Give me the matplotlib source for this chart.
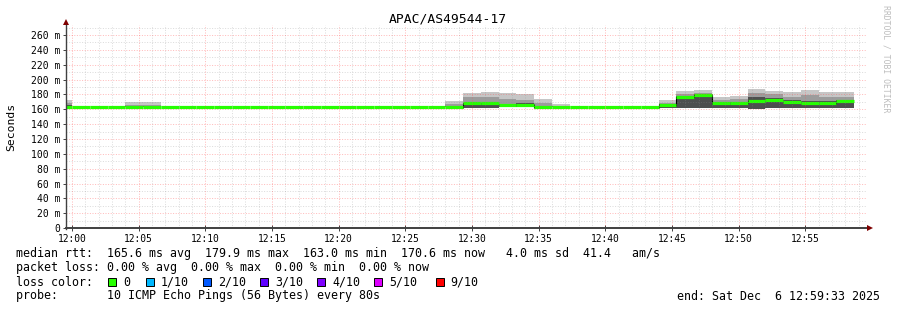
"""
Smokeping style latency graph for APAC/AS49544-17, last hour.
"""
import numpy as np
import matplotlib.pyplot as plt
from matplotlib.patches import Rectangle

W, H = 897, 310
MONO = 'DejaVu Sans Mono'

# 80 s bins, first one starts 11:58:40 (index -1), values in ms
median = [162.8, 162.8, 162.8, 162.8, 162.8, 163.8, 163.8, 163.8, 163.8, 163.8,
          163.8, 163.0, 163.0, 163.0, 163.0, 163.0, 163.0, 163.0, 163.0, 163.0,
          163.0, 163.0, 163.0, 168.2, 168.2, 166.5, 166.0, 163.0, 163.0, 163.0,
          163.0, 163.0, 163.0, 163.0, 166.0, 176.5, 179.9, 168.8, 168.0, 171.0,
          172.0, 170.0, 168.0, 168.0, 170.6]
smoke_hi = [172, None, None, None, 170, 170, None, None, None, None,
            None, None, None, None, None, None, None, None, None, None,
            None, None, 171, 182, 183, 182, 180, 174, 167, None,
            None, None, None, None, 173, 185, 186, 176, 178, 188,
            185, 183, 186, 184, 183]
smoke_mid = [168, None, None, None, 166, 166, None, None, None, None,
             None, None, None, None, None, None, None, None, None, None,
             None, None, 167, 176, 176, 174, 172, 168, 165, None,
             None, None, None, None, 169, 180, 182, 172, 174, 182,
             180, 177, 179, 177, 176]
smoke_dark = [166, None, None, None, 164, 164, None, None, None, None,
              None, None, None, None, None, None, None, None, None, None,
              None, None, 165, 168, 168, 167, 168, 165, 164, None,
              None, None, None, None, 167, 176, 179, 168, 170, 176,
              175, 172, 171, 171, 172]
smoke_lo = [162, None, None, None, 163, 163, None, None, None, None,
            None, None, None, None, None, None, None, None, None, None,
            None, None, 163, 162, 162, 163, 163, 162, 163, None,
            None, None, None, None, 162, 162, 162, 162, 162, 161,
            162, 162, 162, 162, 162]

x_labels = ['12:00', '12:05', '12:10', '12:15', '12:20', '12:25',
            '12:30', '12:35', '12:40', '12:45', '12:50', '12:55']
stats_line = ('median rtt:  165.6 ms avg  179.9 ms max  163.0 ms min  '
              '170.6 ms now   4.0 ms sd  41.4   am/s')
loss_line = 'packet loss: 0.00 % avg  0.00 % max  0.00 % min  0.00 % now'
probe_line = 'probe:       10 ICMP Echo Pings (56 Bytes) every 80s'
end_line = 'end: Sat Dec  6 12:59:33 2025'
loss_labels = ['0', '1/10', '2/10', '3/10', '4/10', '5/10', '9/10']
loss_colors = ['#26ff00', '#00b8ff', '#0059ff', '#5e00ff', '#7e00ff', '#dd00ff', '#ff0000']

step = 80 / 60.0
starts = -step + step * np.arange(len(median))

fig = plt.figure(figsize=(W / 100, H / 100), dpi=100)
fig.patch.set_facecolor('white')

x0, x1, ytop, ybot = 66, 866, 25.4, 228.2
ax = fig.add_axes([x0 / W, (H - ybot) / H, (x1 - x0) / W, (ybot - ytop) / H])
ax.set_xlim(-27 / 60, 59 + 33 / 60)
ax.set_ylim(0, 273)
for s in ax.spines.values():
    s.set_visible(False)

# smoke
for lo_, top_, col in [(smoke_lo, smoke_hi, '#c6c6c6'),
                       (smoke_lo, smoke_mid, '#9c9c9c'),
                       (smoke_lo, smoke_dark, '#4e4e4e')]:
    for i in range(len(median)):
        if top_[i] is None:
            continue
        ax.bar(starts[i], top_[i] - lo_[i], bottom=lo_[i], width=step, align='edge',
               color=col, linewidth=0, zorder=2)

# median line
for i in range(len(median)):
    ax.hlines(median[i], starts[i], starts[i] + step, color=loss_colors[0], lw=2.3,
              zorder=4)
for i in range(1, len(median)):
    if abs(median[i] - median[i - 1]) > 2:
        ax.vlines(starts[i], min(median[i], median[i - 1]) - 1,
                  max(median[i], median[i - 1]) + 1, color='black', lw=0.8, zorder=3)

# grid
minor_c = (0.55, 0.55, 0.55, 0.3)
major_c = (1, 0.3, 0.3, 0.38)
dots = (0, (1, 1.6))
minor_x = np.arange(0, 60, 1)
major_x = np.arange(0, 60, 5)
for v in minor_x:
    if v % 5:
        ax.axvline(v, color=minor_c, lw=0.72, ls=dots, zorder=5)
for v in np.arange(10, 271, 10):
    if v % 20:
        ax.axhline(v, color=minor_c, lw=0.72, ls=dots, zorder=5)
for v in major_x:
    ax.axvline(v, color=major_c, lw=0.72, ls=dots, zorder=5)
for v in np.arange(20, 261, 20):
    ax.axhline(v, color=major_c, lw=0.72, ls=dots, zorder=5)

ax.set_xticks(major_x)
ax.set_xticklabels(x_labels, fontfamily=MONO, fontsize=6.9)
yt = np.arange(0, 261, 20)
ax.set_yticks(yt)
ax.set_yticklabels(['0'] + ['%d m' % v for v in yt[1:]], fontfamily=MONO, fontsize=7)
ax.tick_params(axis='both', length=2, width=0.7, color='#404040', pad=2)
ax.tick_params(axis='x', direction='inout', length=4)

# axes with arrows
axc = '#404040'
fig.add_artist(plt.Line2D([x0 / W, 869 / W], [(H - ybot) / H] * 2, color=axc, lw=1.4))
fig.add_artist(plt.Line2D([x0 / W] * 2, [(H - ybot - 0.5) / H, (H - 24) / H], color=axc, lw=1.0))
fig.add_artist(plt.Line2D([870 / W], [(H - ybot) / H], marker='>', ms=4, color='#7f0000',
                          markeredgewidth=0))
fig.add_artist(plt.Line2D([x0 / W], [(H - 22) / H], marker='^', ms=4, color='#7f0000',
                          markeredgewidth=0))

fig.text(448 / W, (H - 19.5) / H, 'APAC/AS49544-17', ha='center', va='center',
         fontfamily=MONO, fontsize=9.4)
fig.text(11 / W, (H - 127) / H, 'Seconds', ha='center', va='center', rotation=90,
         fontfamily=MONO, fontsize=8.2)
fig.text(886 / W, (H - 59) / H, 'RRDTOOL / TOBI OETIKER', ha='center', va='center',
         rotation=270, fontfamily=MONO, fontsize=5.9, color='#bdbdbd')

# legend
fs = 8.4
fig.text(16 / W, (H - 254) / H, stats_line, ha='left', va='center', fontfamily=MONO, fontsize=fs)
fig.text(16 / W, (H - 268) / H, loss_line, ha='left', va='center', fontfamily=MONO, fontsize=fs)
fig.text(16 / W, (H - 282) / H, 'loss color:', ha='left', va='center', fontfamily=MONO, fontsize=fs)
fig.text(16 / W, (H - 296) / H, probe_line, ha='left', va='center', fontfamily=MONO, fontsize=fs)
fig.text(880 / W, (H - 296) / H, end_line, ha='right', va='center', fontfamily=MONO, fontsize=fs)

box_x = [108.3, 145.7, 203.3, 260.0, 317.3, 374.3, 435.7]
for bx, lab, col in zip(box_x, loss_labels, loss_colors):
    fig.add_artist(Rectangle((bx / W, (H - 286) / H), 8 / W, 8 / H, transform=fig.transFigure,
                             facecolor=col, edgecolor='black', lw=0.7))
    fig.text((bx + 15) / W, (H - 282) / H, lab, ha='left', va='center', fontfamily=MONO,
             fontsize=fs)

fig.savefig('out.png', dpi=100, facecolor='white')
